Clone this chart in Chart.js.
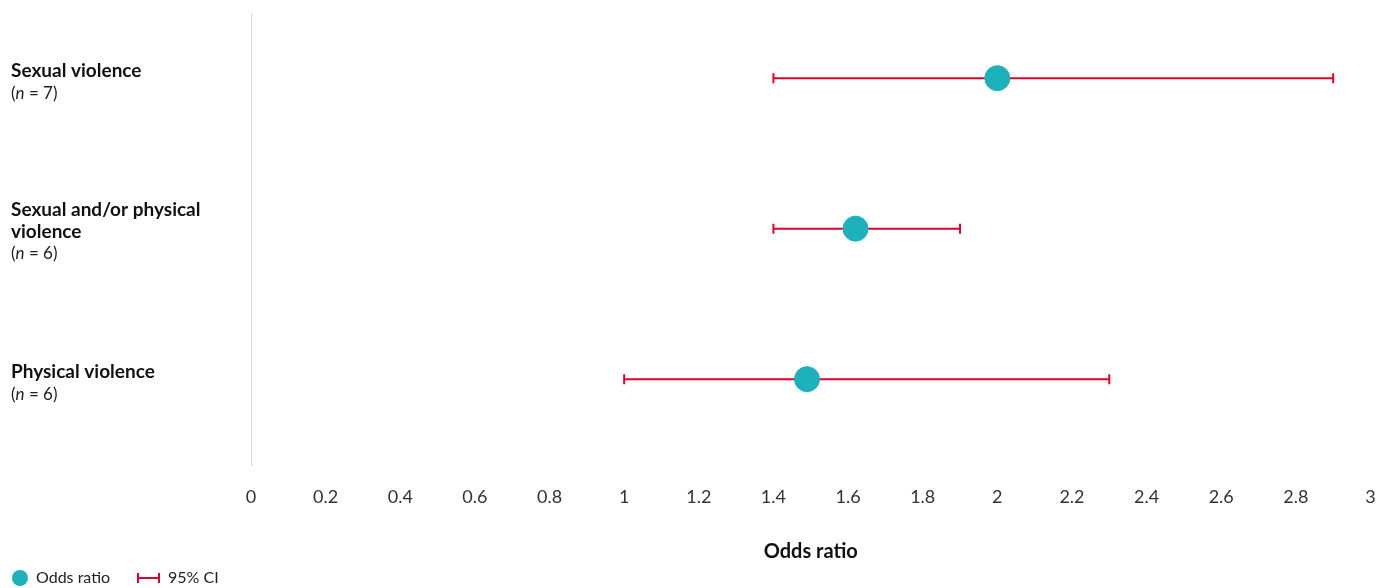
<!DOCTYPE html>
<html>
<head>
<meta charset="utf-8">
<script src="https://cdn.jsdelivr.net/npm/chart.js@4"></script>
<style>
  html, body { margin: 0; padding: 0; background: #fff; overflow: hidden; }
  #wrap { width: 1384px; height: 588px; position: relative; }
</style>
</head>
<body>
<div id="wrap"><canvas id="forestChart"></canvas></div>
<script>
// outcome groups, top to bottom
const groups = [
    ['Sexual violence'],
    ['Sexual and/or physical', 'violence'],
    ['Physical violence']
];
const studyCounts = [7, 6, 6];
const oddsRatios = [2.0, 1.62, 1.49];
const ciLower = [1.4, 1.4, 1.0];
const ciUpper = [2.9, 1.9, 2.3];
const xTicks = [0, 0.2, 0.4, 0.6, 0.8, 1, 1.2, 1.4, 1.6, 1.8, 2, 2.2, 2.4, 2.6, 2.8, 3];

const teal = '#1cb2bc';
const red = '#e0002b';
const fontName = 'Lato, "Noto Sans", sans-serif';

const datasets = [];
groups.forEach((g, i) => {
    datasets.push({
        type: 'line',
        data: [{x: ciLower[i], y: i}, {x: ciUpper[i], y: i}],
        borderColor: red,
        borderWidth: 2,
        pointStyle: 'line',
        rotation: 90,
        pointRadius: 5,
        pointBorderWidth: 2,
        pointBorderColor: red,
        pointHoverRadius: 5,
        order: 2
    });
});
datasets.push({
    type: 'scatter',
    data: oddsRatios.map((v, i) => ({x: v, y: i})),
    backgroundColor: teal,
    borderColor: teal,
    pointRadius: 12.5,
    pointHoverRadius: 12.5,
    order: 1
});

// left labels + legend
const textPlugin = {
    id: 'textPlugin',
    afterDraw(chart) {
        const ctx = chart.ctx;
        const yScale = chart.scales.y;
        ctx.save();
        ctx.textBaseline = 'middle';
        ctx.textAlign = 'left';
        groups.forEach((lines, i) => {
            const py = yScale.getPixelForValue(i);
            const n = lines.length + 1;
            let y = py - (n - 1) * 11 + 4;
            if (n === 3) y -= 1;
            ctx.fillStyle = '#111';
            ctx.font = 'bold 19px ' + fontName;
            lines.forEach(l => {
                ctx.fillText(l, 11, y);
                y += 22;
            });
            // (n = x) with italic n
            let x = 11;
            ctx.font = '17px ' + fontName;
            ctx.fillStyle = '#222';
            ctx.fillText('(', x, y);
            x += ctx.measureText('(').width;
            ctx.font = 'italic 17px ' + fontName;
            ctx.fillText('n', x, y);
            x += ctx.measureText('n').width;
            ctx.font = '17px ' + fontName;
            ctx.fillText(' = ' + studyCounts[i] + ')', x, y);
        });

        // legend
        const ly = 578;
        ctx.fillStyle = teal;
        ctx.beginPath();
        ctx.arc(20, ly, 8, 0, Math.PI * 2);
        ctx.fill();
        ctx.fillStyle = '#222';
        ctx.font = '16px ' + fontName;
        ctx.fillText('Odds ratio', 36, ly);
        ctx.strokeStyle = red;
        ctx.lineWidth = 2;
        ctx.beginPath();
        ctx.moveTo(138, ly); ctx.lineTo(159, ly);
        ctx.moveTo(138, ly - 5); ctx.lineTo(138, ly + 5);
        ctx.moveTo(159, ly - 5); ctx.lineTo(159, ly + 5);
        ctx.stroke();
        ctx.fillText('95% CI', 168, ly);
        ctx.restore();
    }
};

new Chart(document.getElementById('forestChart'), {
    data: { datasets: datasets },
    options: {
        responsive: true,
        maintainAspectRatio: false,
        animation: false,
        layout: { padding: { left: 251, right: 9, top: 13, bottom: 24 } },
        plugins: {
            legend: { display: false },
            tooltip: { enabled: false }
        },
        scales: {
            x: {
                type: 'linear',
                min: 0,
                max: 3,
                afterBuildTicks: axis => {
                    axis.ticks = xTicks.map(v => ({value: v}));
                },
                // tick padding also pads the sides; drop that
                afterFit: axis => {
                    axis.paddingLeft = 0;
                    axis.paddingRight = 0;
                },
                ticks: {
                    color: '#333',
                    font: { family: fontName, size: 18 },
                    padding: 20,
                    maxRotation: 0,
                    callback: v => String(v)
                },
                grid: {
                    color: ctx => ctx.tick && ctx.tick.value === 0 ? '#d6d6d6' : 'rgba(0,0,0,0)',
                    lineWidth: 1,
                    drawTicks: false
                },
                border: { display: false },
                title: {
                    display: true,
                    text: 'Odds ratio',
                    color: '#111',
                    font: { family: fontName, size: 20, weight: 'bold' },
                    padding: { top: 12, bottom: 0 }
                }
            },
            y: {
                type: 'linear',
                reverse: true,
                min: -0.43,
                max: 2.58,
                display: false
            }
        }
    },
    plugins: [textPlugin]
});
</script>
</body>
</html>
